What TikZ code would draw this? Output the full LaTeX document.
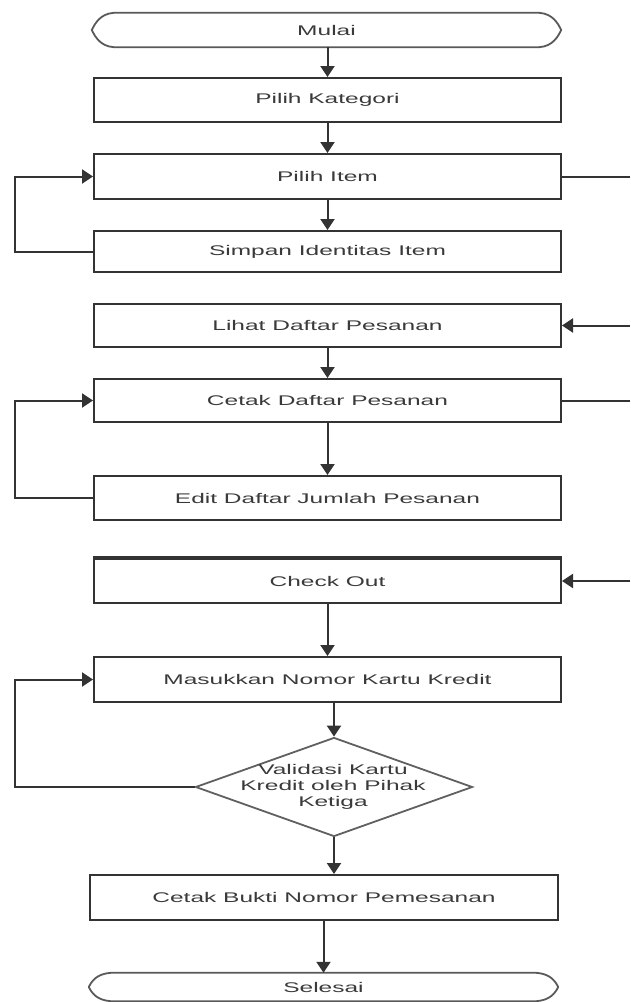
\documentclass[tikz,border=0pt]{standalone}
\usepackage{fontspec}
\setmainfont{Liberation Sans}
\usetikzlibrary{arrows.meta,shapes.geometric}
\definecolor{lncol}{HTML}{333333}
\definecolor{txcol}{HTML}{3A3A3A}
\newcommand{\wt}[1]{\scalebox{1.75}[1]{#1}}
\newcommand{\termshape}[1]{%
  \draw[termline] ([xshift=22pt]#1.north west) -- ([xshift=-22pt]#1.north east)
    .. controls ([xshift=-8pt,yshift=-1pt]#1.north east) and ([xshift=-3pt,yshift=6pt]#1.east) .. (#1.east)
    .. controls ([xshift=-3pt,yshift=-6pt]#1.east) and ([xshift=-8pt,yshift=1pt]#1.south east) .. ([xshift=-22pt]#1.south east)
    -- ([xshift=22pt]#1.south west)
    .. controls ([xshift=8pt,yshift=1pt]#1.south west) and ([xshift=3pt,yshift=-6pt]#1.west) .. (#1.west)
    .. controls ([xshift=3pt,yshift=6pt]#1.west) and ([xshift=8pt,yshift=-1pt]#1.north west) .. cycle;}
\begin{document}
\begin{tikzpicture}[x=1pt,y=-1pt,
  txt/.style={text=txcol,font=\fontsize{14}{16}\selectfont},
  box/.style={txt,draw=lncol,line width=2pt,minimum width=467pt,inner sep=0pt},
  term/.style={txt,minimum width=469pt,inner sep=0pt},
  termline/.style={draw=gray!70!black,line width=1.8pt,line join=round},
  link/.style={draw=lncol,line width=2pt},
  arr/.style={link,-{Triangle[width=14pt,length=11pt]}}
]
\useasboundingbox (0,0) rectangle (630,1002);
\coordinate (lx) at (15,0);

\node[term,minimum height=34pt] (mulai) at (326.5,30) {\wt{Mulai}};
\termshape{mulai}
\node[box,minimum height=44pt] (kat) at (327.5,100) {\wt{Pilih Kategori}};
\node[box,minimum height=45pt] (item) at (327.5,176.5) {\wt{Pilih Item}};
\node[box,minimum height=41pt] (simpan) at (327.5,251.5) {\wt{Simpan Identitas Item}};
\node[box,minimum height=43pt] (lihat) at (327.5,325.5) {\wt{Lihat Daftar Pesanan}};
\node[box,minimum height=43pt] (cetak) at (327.5,400.5) {\wt{Cetak Daftar Pesanan}};
\node[box,minimum height=44pt] (edit) at (327.5,498) {\wt{Edit Daftar Jumlah Pesanan}};
\node[box,minimum height=44pt] (co) at (327.5,581) {\wt{Check Out}};
\draw[lncol,line width=3.5pt] (co.north west) -- (co.north east);
\node[box,minimum height=45pt] (mas) at (327.5,679.5) {\wt{Masukkan Nomor Kartu Kredit}};
\node[diamond,draw=gray!75!black,line width=1.8pt,minimum width=277pt,minimum height=99pt,inner sep=0pt] (val) at (334,787) {};
\node[txt,align=center,inner sep=0pt] (valt) at (333,787) {\wt{Validasi Kartu}\\\wt{Kredit oleh Pihak}\\\wt{Ketiga}};
\node[box,minimum width=468pt,minimum height=45pt] (bukti) at (324,897.5) {\wt{Cetak Bukti Nomor Pemesanan}};
\node[term,minimum height=28pt] (sel) at (323.5,987) {\wt{Selesai}};
\termshape{sel}

% main flow
\draw[arr] (mulai.south -| kat.north) -- (kat.north);
\draw[arr] (kat) -- (item);
\draw[arr] (item) -- (simpan);
\draw[arr] (lihat) -- (cetak);
\draw[arr] (cetak) -- (edit);
\draw[arr] (co) -- (mas);
\draw[arr] (mas.south -| val.north) -- (val.north);
\draw[arr] (val.south) -- (val.south |- bukti.north);
\draw[arr] (bukti.south -| sel.north) -- (sel.north);

% loops
\draw[arr] (simpan.west) -- (simpan.west -| lx) |- (item.west);
\draw[arr] (edit.west) -- (edit.west -| lx) |- (cetak.west);
\draw[arr] (val.west) -- (val.west -| lx) |- (mas.west);

% right side connectors
\coordinate (r1) at (630,176.5);
\coordinate (r2) at (630,325.5);
\coordinate (r3) at (630,400.5);
\coordinate (r4) at (630,581);
\draw[link] (item.east) -- (r1);
\draw[arr] (r2) -- (lihat.east);
\draw[link] (cetak.east) -- (r3);
\draw[arr] (r4) -- (co.east);
\end{tikzpicture}
\end{document}
